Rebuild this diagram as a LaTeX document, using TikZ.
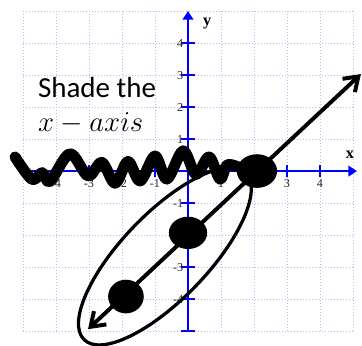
\documentclass[tikz,border=0pt]{standalone}
\usepackage{fontspec}
\setmainfont{Liberation Serif}
\newfontfamily\calibri{Carlito}
\usetikzlibrary{arrows.meta,shapes.geometric}
\definecolor{gridblue}{RGB}{185,185,245}

\begin{document}
\begin{tikzpicture}[
  x=1cm, y=0.97cm,
  gridline/.style={gridblue, dotted, line width=0.6pt},
  axis/.style={blue, line width=1.9pt, -{Triangle[length=2.6mm,width=3.2mm]}},
  tickmark/.style={blue, line width=1.1pt},
  ticklabel/.style={font=\fontsize{10.5}{11}\selectfont, text=black!85, inner sep=1pt},
  axislabel/.style={font=\fontsize{14}{15}\selectfont\bfseries},
  bigtext/.style={font=\calibri\fontsize{25}{30}\selectfont, inner sep=0pt, anchor=base west},
  blob/.style={ellipse, fill=black, inner sep=0pt},
  ray/.style={line width=3.4pt, {Straight Barb[length=4mm,width=5.5mm]}-{Straight Barb[length=4mm,width=5.5mm]}},
  wave/.style={line width=9.5pt, line cap=round, line join=round}
]
\useasboundingbox (-5.697,-5.4375) rectangle (5.273,5.344);
% Grid
\foreach \i in {-5,...,5} {
  \draw[gridline] (\i,-5) -- (\i,5);
  \draw[gridline] (-5,\i) -- (5,\i);
}
% Axes
\coordinate (xS) at (-5,0);
\coordinate (xE) at (5.12,0);
\coordinate (yS) at (0,-5);
\coordinate (yE) at (0,5);
\draw[axis] (xS) -- (xE);
\draw[axis] (yS) -- (yE);
\node[axislabel] (xlab) at (4.91,0.5) {x};
\node[axislabel] (ylab) at (0.58,4.6) {y};
% Ticks and numbers
\foreach \i in {-5,...,-1,1,2,3,4} {
  \draw[tickmark] (\i,-0.2) -- (\i,0.2);
  \draw[tickmark] (-0.2,\i) -- (0.2,\i);
}
\foreach \i [count=\k] in {-4,...,-1,1,2,3,4} {
  \node[ticklabel, anchor=north] (xl\k) at (\i,-0.22) {\i};
  \node[ticklabel, anchor=east] (yl\k) at (-0.1,\i) {\i};
}
% Text
\node[bigtext] (shade) at (-4.55,2.31) {Shade the};
\node[bigtext] (xaxis) at (-4.55,1.25) {$x-axis$};
% Circled solution set
\draw[line width=2.8pt, rotate around={46:(-0.70,-2.66)}] (-0.70,-2.66) ellipse [x radius=3.52cm, y radius=1.3cm];
% Line y = x - 2
\coordinate (rayS) at (-3.03,-4.94);
\coordinate (rayE) at (5.24,3.03);
\draw[ray] (rayS) -- (rayE);
% Points
\node[blob, minimum width=1.22cm, minimum height=1.02cm] (ptA) at (2.09,0) {};
\node[blob, minimum width=1.16cm, minimum height=0.98cm] (ptB) at (0,-1.93) {};
\node[blob, minimum width=1.08cm, minimum height=1.02cm] (ptC) at (-1.88,-3.92) {};
% Shading of the x-axis
\draw[wave] plot[smooth, tension=0.55] coordinates {
  (-5.24,0.44) (-4.73,-0.26) (-4.42,-0.05) (-4.18,-0.32) (-3.58,0.54)
  (-3.03,-0.15) (-2.61,0.27) (-2.21,-0.38) (-1.82,0.30) (-1.45,-0.31)
  (-1.00,0.47) (-0.64,-0.25) (-0.15,0.63) (0.24,-0.10) (0.64,0.44)
  (0.97,-0.25) (1.21,0.20) (1.73,0.03)};
\end{tikzpicture}
\end{document}
